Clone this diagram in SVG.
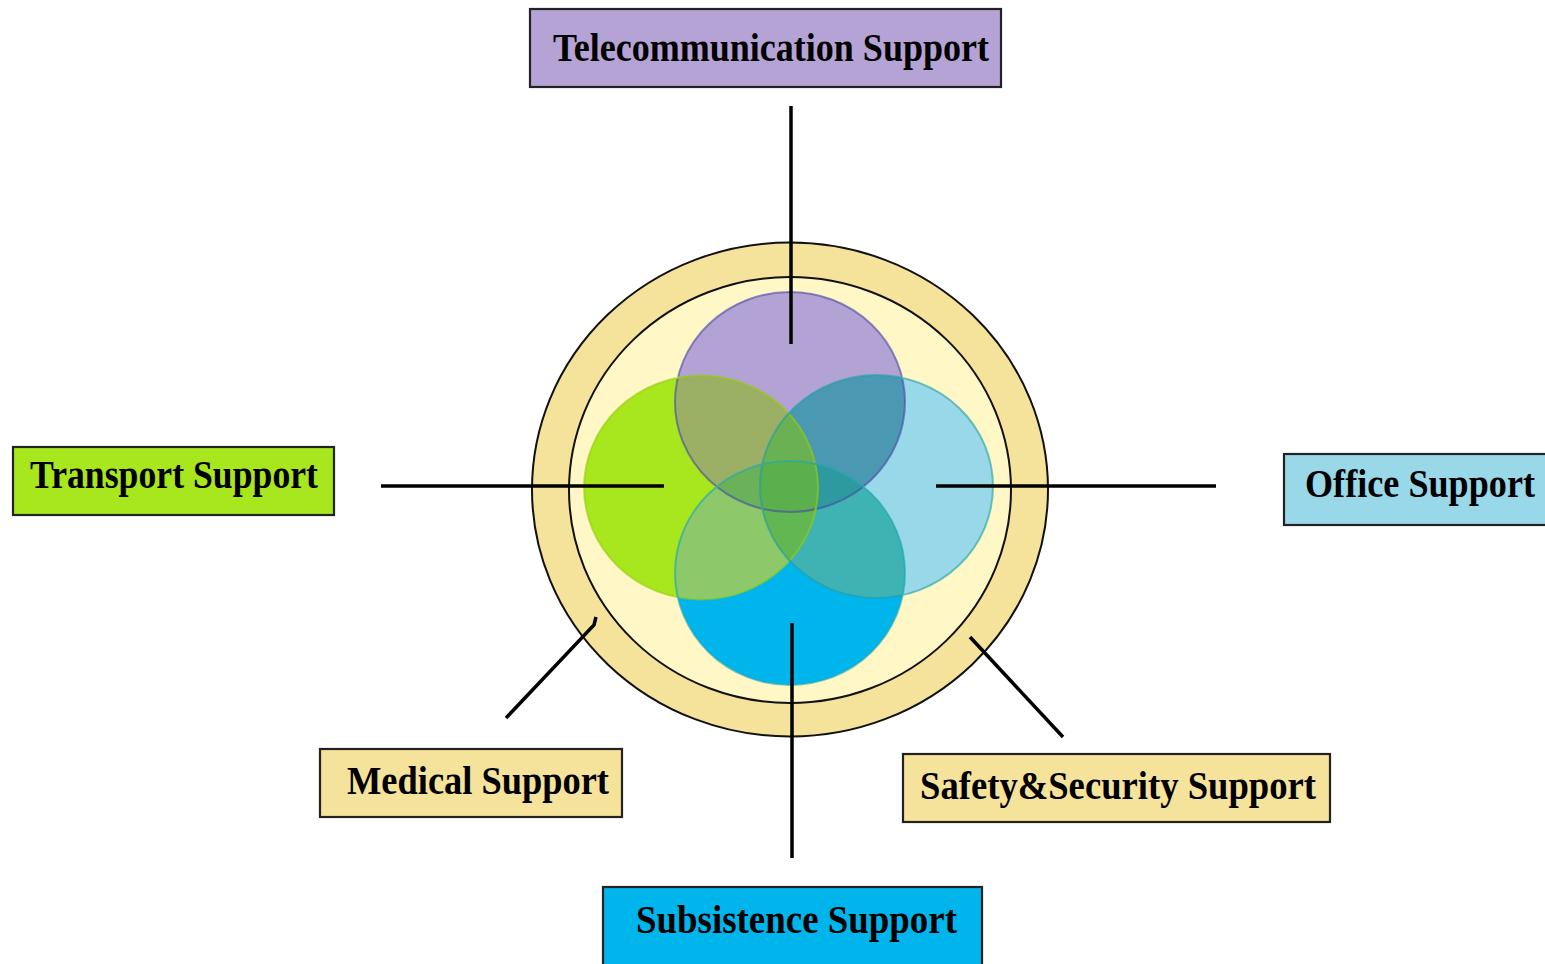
<svg xmlns="http://www.w3.org/2000/svg" width="1545" height="964" viewBox="0 0 1545 964">
<style>
.box{stroke:#222;stroke-width:2.2}
.lbl{font-family:"Liberation Serif","Times New Roman",serif;font-weight:bold;font-size:39px;fill:#000}
.ln{stroke:#000;stroke-width:3.5;fill:none}
</style>
<defs>
<clipPath id="cP"><ellipse cx="790" cy="402" rx="115" ry="110"/></clipPath>
<clipPath id="cG"><ellipse cx="701" cy="487.5" rx="117" ry="112"/></clipPath>
<clipPath id="cL"><ellipse cx="876.5" cy="486.5" rx="116.5" ry="111.5"/></clipPath>
<clipPath id="cB"><ellipse cx="790" cy="573" rx="115" ry="112"/></clipPath>
</defs>
<rect width="1545" height="964" fill="#fff"/>
<g id="core">
<ellipse cx="790" cy="489.5" rx="258" ry="247" fill="#F5E29B" stroke="#111" stroke-width="2"/>
<ellipse cx="790" cy="490" rx="221" ry="213" fill="#FFF8C6" stroke="#111" stroke-width="2"/>
<ellipse cx="790" cy="402" rx="115" ry="110" fill="#B3A2D4"/>
<ellipse cx="701" cy="487.5" rx="117" ry="112" fill="#A8E61D"/>
<ellipse cx="876.5" cy="486.5" rx="116.5" ry="111.5" fill="#98D8E8"/>
<ellipse cx="790" cy="573" rx="115" ry="112" fill="#00B5EC"/>
<g clip-path="url(#cP)"><ellipse cx="701" cy="487.5" rx="117" ry="112" fill="#9BB065"/><ellipse cx="876.5" cy="486.5" rx="116.5" ry="111.5" fill="#4B98B2"/></g>
<g clip-path="url(#cB)"><ellipse cx="701" cy="487.5" rx="117" ry="112" fill="#8DC96A"/><ellipse cx="876.5" cy="486.5" rx="116.5" ry="111.5" fill="#3FB3B3"/></g>
<g clip-path="url(#cG)"><ellipse cx="876.5" cy="486.5" rx="116.5" ry="111.5" fill="#6AB85A"/></g>
<g clip-path="url(#cP)"><g clip-path="url(#cB)"><ellipse cx="701" cy="487.5" rx="117" ry="112" fill="#6AB15A"/><ellipse cx="876.5" cy="486.5" rx="116.5" ry="111.5" fill="#2D9AA0"/></g></g>
<g clip-path="url(#cG)"><g clip-path="url(#cL)"><ellipse cx="790" cy="402" rx="115" ry="110" fill="#6AB153"/><ellipse cx="790" cy="573" rx="115" ry="112" fill="#63B752"/></g></g>
<g clip-path="url(#cG)"><g clip-path="url(#cL)"><g clip-path="url(#cP)"><ellipse cx="790" cy="573" rx="115" ry="112" fill="#5BAF4D"/></g></g></g>
<g fill="none" stroke-width="2" opacity="0.6">
<ellipse cx="790" cy="402" rx="115" ry="110" stroke="#4848A8"/>
<ellipse cx="701" cy="487.5" rx="117" ry="112" stroke="#98CC10"/>
<ellipse cx="876.5" cy="486.5" rx="116.5" ry="111.5" stroke="#20A0A8"/>
<ellipse cx="790" cy="573" rx="115" ry="112" stroke="#20A8B0"/>
</g>
</g>
<g id="connectors">
<line class="ln" x1="791" y1="106" x2="791" y2="344"/>
<line class="ln" x1="381" y1="486" x2="664" y2="486"/>
<line class="ln" x1="936" y1="486" x2="1216" y2="486"/>
<line class="ln" x1="792" y1="623" x2="792" y2="858"/>
<polyline class="ln" stroke-width="3" points="506,718 594,625 596,617"/>
<line class="ln" stroke-width="3" x1="970" y1="637" x2="1063" y2="737"/>
</g>
<g id="telecom"><rect class="box" x="530" y="9" width="471" height="78" fill="#B5A3D5"/><text class="lbl" style="font-size:41px" x="553" y="61" textLength="436" lengthAdjust="spacingAndGlyphs">Telecommunication Support</text></g>
<g id="transport"><rect class="box" x="13" y="447" width="321" height="68" fill="#A8E61D"/><text class="lbl" x="30" y="488" textLength="288" lengthAdjust="spacingAndGlyphs">Transport Support</text></g>
<g id="office"><rect class="box" x="1284" y="454" width="270" height="71" fill="#98D8E8"/><text class="lbl" x="1305" y="497" textLength="230" lengthAdjust="spacingAndGlyphs">Office Support</text></g>
<g id="medical"><rect class="box" x="320" y="749" width="302" height="68" fill="#F5E29B"/><text class="lbl" x="347" y="794" textLength="262" lengthAdjust="spacingAndGlyphs">Medical Support</text></g>
<g id="safety"><rect class="box" x="903" y="754" width="427" height="68" fill="#F5E29B"/><text class="lbl" x="920" y="799" textLength="396" lengthAdjust="spacingAndGlyphs">Safety&amp;Security Support</text></g>
<g id="subsistence"><rect class="box" x="603" y="887" width="379" height="90" fill="#00B5EC"/><text class="lbl" x="636" y="933" textLength="321" lengthAdjust="spacingAndGlyphs">Subsistence Support</text></g>
</svg>
